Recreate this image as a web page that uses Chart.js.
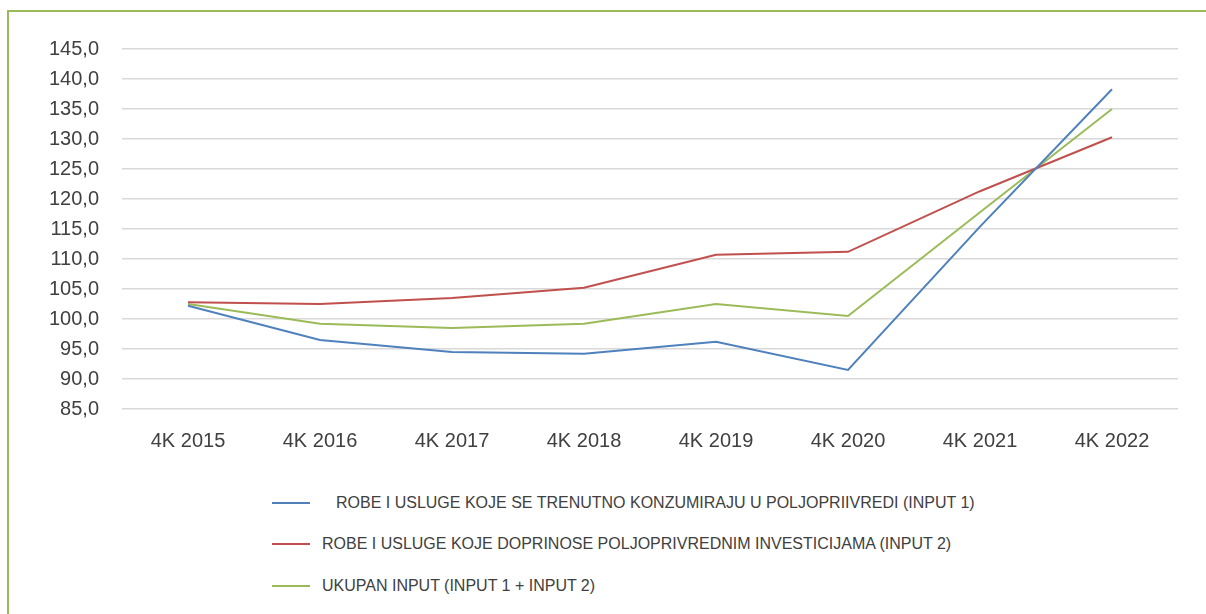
<!DOCTYPE html>
<html>
<head>
<meta charset="utf-8">
<script src="https://cdn.jsdelivr.net/npm/chart.js@4.4.1/dist/chart.umd.min.js"></script>
<style>
  html, body { margin: 0; padding: 0; background: #fff; }
  #wrap { position: relative; width: 1206px; height: 614px; overflow: hidden; }
  #frame { position: absolute; left: 7px; top: 10px; width: 1400px; height: 800px;
           border: 2px solid #9BBB59; box-sizing: border-box; }
  #chart { position: absolute; left: 0; top: 0; }
  #legend { position: absolute; left: 272px; top: 482px; font-family: "Liberation Sans", Arial, sans-serif;
            font-size: 16px; color: #404040; }
  .item { display: flex; align-items: center; height: 41.5px; }
  .swatch { width: 38px; height: 2px; margin-right: 12px; }
</style>
</head>
<body>
<div id="wrap">
  <div id="frame"></div>
  <canvas id="chart" width="1206" height="470"></canvas>
  <div id="legend"></div>
</div>
<script>
const categories = ['4K 2015', '4K 2016', '4K 2017', '4K 2018', '4K 2019', '4K 2020', '4K 2021', '4K 2022'];
const seriesNames = [
    'ROBE I USLUGE KOJE SE TRENUTNO KONZUMIRAJU U POLJOPRIIVREDI (INPUT 1)',
    'ROBE I USLUGE KOJE DOPRINOSE POLJOPRIVREDNIM INVESTICIJAMA (INPUT 2)',
    'UKUPAN INPUT (INPUT 1 + INPUT 2)'
];
const input1 = [102.2, 96.5, 94.5, 94.2, 96.2, 91.5, 115.4, 138.3];
const input2 = [102.8, 102.5, 103.5, 105.2, 110.7, 111.2, 121.3, 130.3];
const total = [102.5, 99.2, 98.5, 99.2, 102.5, 100.5, 117.8, 135.0];
const seriesColors = ['#4F81BD', '#C0504D', '#9BBB59'];

const tickFont = { family: '"Liberation Sans", Arial, sans-serif', size: 20 };

const datasets = [input1, input2, total].map((values, i) => ({
    label: seriesNames[i],
    data: values,
    borderColor: seriesColors[i],
    backgroundColor: seriesColors[i],
    borderWidth: 2,
    pointRadius: 0,
    tension: 0
}));

new Chart(document.getElementById('chart').getContext('2d'), {
    type: 'line',
    data: { labels: categories, datasets: datasets },
    options: {
        responsive: false,
        animation: false,
        layout: { padding: { left: 0, top: 49, right: 28, bottom: 0 } },
        plugins: { legend: { display: false }, tooltip: { enabled: false } },
        scales: {
            x: {
                offset: true,
                grid: { display: false },
                border: { display: false },
                ticks: { color: '#404040', font: tickFont, padding: 12, maxRotation: 0 },
                afterFit: scale => { scale.height = 61; }
            },
            y: {
                min: 85,
                max: 145,
                grid: { color: '#D9D9D9', lineWidth: 1.5, drawTicks: false },
                border: { display: false },
                ticks: {
                    stepSize: 5,
                    color: '#404040',
                    font: tickFont,
                    padding: 23,
                    callback: v => v.toFixed(1).replace('.', ',')
                },
                afterFit: scale => { scale.width = 122; }
            }
        }
    }
});

// legend below the plot, one row per series
const legend = document.getElementById('legend');
seriesNames.forEach((name, i) => {
    const row = document.createElement('div');
    row.className = 'item';
    const sw = document.createElement('span');
    sw.className = 'swatch';
    sw.style.background = seriesColors[i];
    if (i === 0) sw.style.marginRight = '26px';
    const txt = document.createElement('span');
    txt.textContent = name;
    txt.style.whiteSpace = 'pre';
    row.appendChild(sw);
    row.appendChild(txt);
    legend.appendChild(row);
});
</script>
</body>
</html>
